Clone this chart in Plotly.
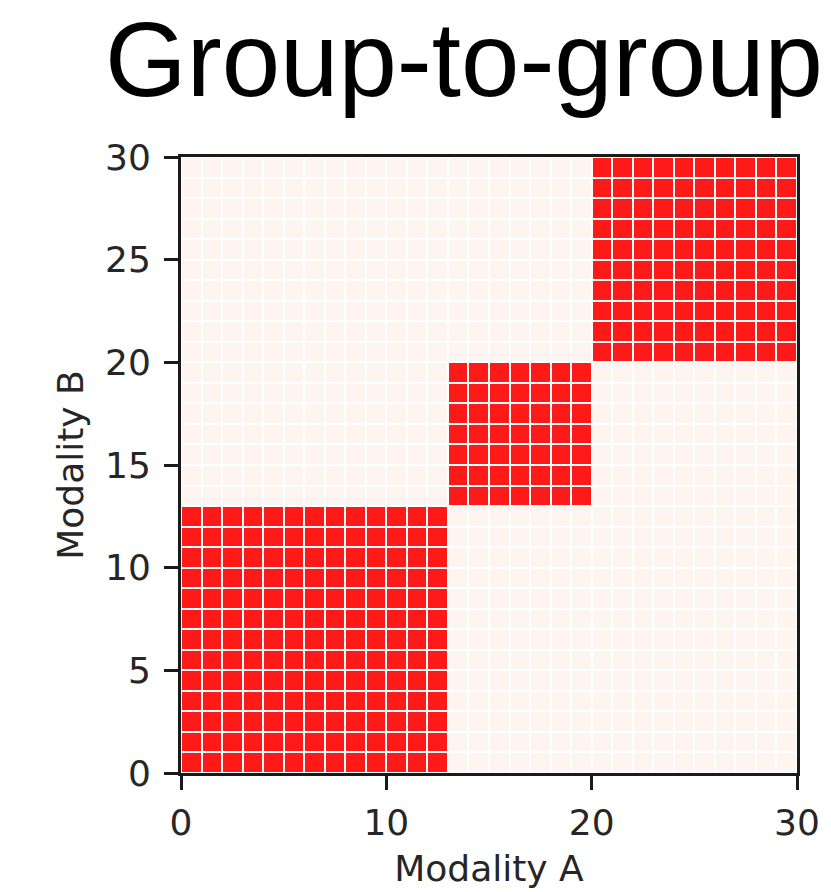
import plotly.graph_objects as go

# Data: group sizes along each modality (block-diagonal group-to-group matching)
group_sizes_a = [13, 7, 10]
group_sizes_b = [13, 7, 10]
x_ticks = [0, 10, 20, 30]
y_ticks = [0, 5, 10, 15, 20, 25, 30]

def labels_from_sizes(sizes):
    out = []
    for g, s in enumerate(sizes):
        out += [g] * s
    return out

labels_a = labels_from_sizes(group_sizes_a)
labels_b = labels_from_sizes(group_sizes_b)
n_a, n_b = len(labels_a), len(labels_b)
z = [[1 if labels_a[i] == labels_b[j] else 0 for i in range(n_a)] for j in range(n_b)]
xc = [i + 0.5 for i in range(n_a)]
yc = [j + 0.5 for j in range(n_b)]

W, H = 831, 892
L, R, T, B = 181, 797, 157, 773

fig = go.Figure(go.Heatmap(
    z=z, x=xc, y=yc,
    colorscale=[[0, "#fff5f0"], [1, "#ff1a1a"]],
    zmin=0, zmax=1, showscale=False, xgap=2, ygap=2,
    hoverinfo="skip",
))

tick_font = dict(family="DejaVu Sans", size=36, color="#262626")
axis_common = dict(
    showgrid=False, zeroline=False,
    showline=True, linecolor="#1a1a1a", linewidth=3, mirror=True,
    ticks="outside", ticklen=14, tickwidth=3, tickcolor="#1a1a1a",
    tickfont=tick_font, automargin=False,
)

fig.update_layout(
    width=W, height=H,
    margin=dict(l=L, r=W - R, t=T, b=H - B, pad=0),
    plot_bgcolor="white", paper_bgcolor="white",
    xaxis=dict(range=[0, 30], tickmode="array", tickvals=x_ticks,
               ticklabelstandoff=2,
               title=dict(text="Modality A", font=tick_font, standoff=14),
               **axis_common),
    yaxis=dict(range=[0, 30], tickmode="array", tickvals=y_ticks,
               ticklabelstandoff=6,
               title=dict(text="Modality B", font=tick_font, standoff=11),
               **axis_common),
    title=dict(text="Group-to-group",
               font=dict(family="Liberation Sans, Arial", size=105, color="black"),
               xref="container", yref="container",
               x=464 / W, xanchor="center", y=1 - 59 / H, yanchor="middle"),
)

fig.write_html("out.html", config={"displayModeBar": False},
               post_script="document.body.style.margin='0';")
